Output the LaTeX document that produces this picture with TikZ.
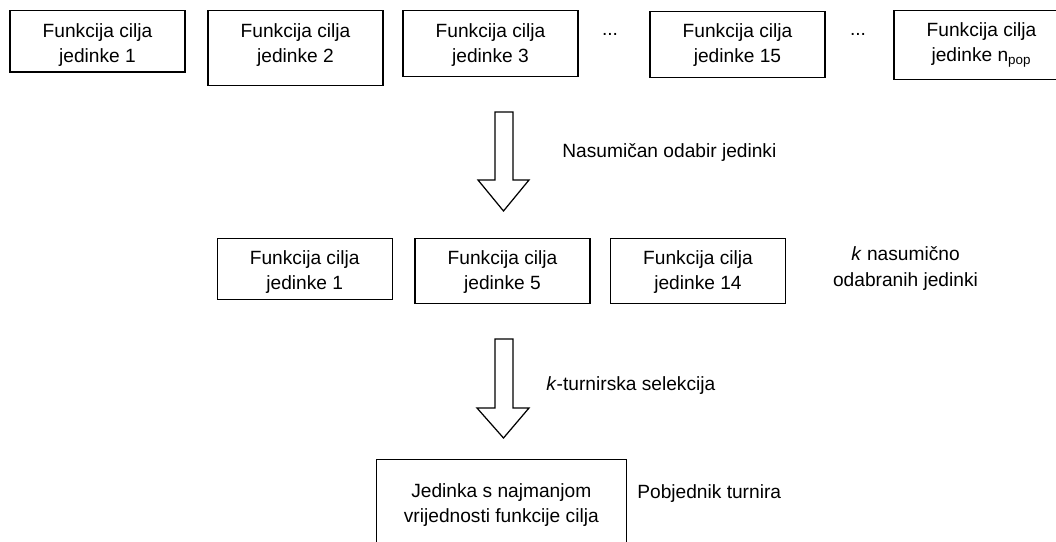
\documentclass[tikz,border=0pt]{standalone}
\usepackage{fontspec}
\setmainfont{Liberation Sans}
\usetikzlibrary{positioning}

\tikzset{
  fbox/.style={draw, line width=0.7pt, inner sep=0pt, anchor=north, minimum width=35mm},
  lbl/.style={align=center, inner sep=0pt},
  barrow/.style={draw, line width=0.7pt, line join=miter}
}

\begin{document}
\begin{tikzpicture}[x=0.2mm,y=-0.2mm]
\fontsize{10.9}{14.4}\selectfont
\useasboundingbox (0,0) rectangle (1056,542);
% top row: all individuals
\node[fbox, minimum height=12.3mm] (t1) at (97.5,10) {};
\node[fbox, minimum height=15mm] (t2) at (295.5,10) {};
\node[fbox, minimum height=13.2mm] (t3) at (490.5,10) {};
\node[fbox, minimum height=13.2mm] (t15) at (737.5,11) {};
\node[fbox, minimum height=13.8mm] (tn) at (981.5,10) {};
\node[lbl] (t1l) at ([yshift=-7mm]t1.north) {Funkcija cilja\\jedinke 1};
\node[lbl] (t2l) at ([yshift=-7mm]t2.north) {Funkcija cilja\\jedinke 2};
\node[lbl] (t3l) at ([yshift=-7mm]t3.north) {Funkcija cilja\\jedinke 3};
\node[lbl] (t15l) at ([yshift=-6.8mm]t15.north) {Funkcija cilja\\jedinke 15};
\node[lbl] (tnl) at ([yshift=-7mm]tn.north) {Funkcija cilja\\jedinke n\textsubscript{pop}};
\node[lbl] (d1) at (610,34) {...};
\node[lbl] (d2) at (858,34) {...};
% first block arrow
\draw[barrow] (495,112) -- (513,112) -- (513,180) -- (529,180) -- (503.5,211) -- (478,180) -- (495,180) -- cycle;
\node[lbl, anchor=west] (rnd) at (562,153) {Nasumičan odabir jedinki};
% middle row: k chosen individuals
\node[fbox, minimum height=12.3mm] (m1) at (304.7,237.7) {};
\node[fbox, minimum height=13mm] (m5) at (502.5,237.7) {};
\node[fbox, minimum height=13mm] (m14) at (698,237.7) {};
\node[lbl] (m1l) at ([yshift=-6.8mm]m1.north) {Funkcija cilja\\jedinke 1};
\node[lbl] (m5l) at ([yshift=-6.8mm]m5.north) {Funkcija cilja\\jedinke 5};
\node[lbl] (m14l) at ([yshift=-6.8mm]m14.north) {Funkcija cilja\\jedinke 14};
\node[lbl] (kn) at (905.5,268.5) {\textit{k} nasumično\\odabranih jedinki};
% second block arrow
\draw[barrow] (495,339) -- (513,339) -- (513,408) -- (529,408) -- (503.5,438) -- (477,408) -- (495,408) -- cycle;
\node[lbl, anchor=west] (sel) at (546,386) {\textit{k}-turnirska selekcija};
% winner
\node[fbox, minimum width=50mm, minimum height=18.4mm] (win) at (501.3,459) {};
\node[lbl] (winl) at ([yshift=-9.2mm]win.north) {Jedinka s najmanjom\\vrijednosti funkcije cilja};
\node[lbl, anchor=west] (pob) at (637,494) {Pobjednik turnira};
\end{tikzpicture}
\end{document}
